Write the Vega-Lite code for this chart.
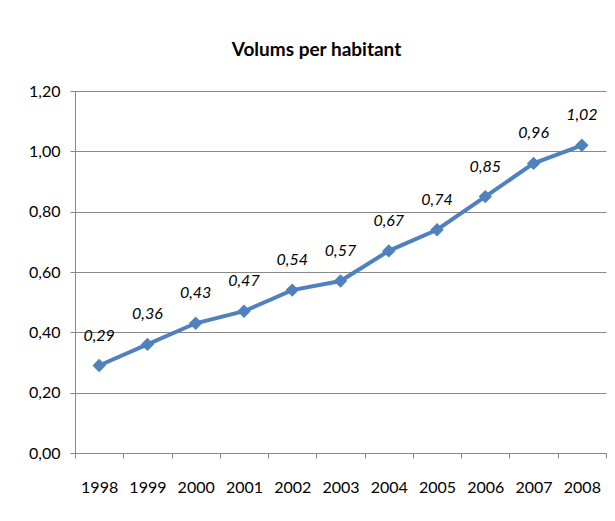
{
  "$schema": "https://vega.github.io/schema/vega-lite/v6.json",
  "autosize": {"type": "none"},
  "padding": {"left": 75, "top": 91, "right": 9, "bottom": 68},
  "width": 531,
  "height": 362,
  "background": "white",
  "title": {
    "text": "Volums per habitant",
    "font": "Lato",
    "fontSize": 19,
    "fontWeight": "bold",
    "color": "#000000",
    "anchor": "middle",
    "frame": "group",
    "baseline": "alphabetic",
    "offset": 8,
    "dx": -24
  },
  "config": {
    "locale": {
      "number": {"decimal": ",", "thousands": ".", "grouping": [3], "currency": ["", " €"]}
    },
    "view": {"stroke": null},
    "font": "Lato"
  },
  "data": {
    "values": [
      {"year": "1998", "value": 0.29},
      {"year": "1999", "value": 0.36},
      {"year": "2000", "value": 0.43},
      {"year": "2001", "value": 0.47},
      {"year": "2002", "value": 0.54},
      {"year": "2003", "value": 0.57},
      {"year": "2004", "value": 0.67},
      {"year": "2005", "value": 0.74},
      {"year": "2006", "value": 0.85},
      {"year": "2007", "value": 0.96},
      {"year": "2008", "value": 1.02}
    ]
  },
  "encoding": {
    "x": {
      "field": "year",
      "type": "ordinal",
      "scale": {"type": "band", "paddingInner": 0, "paddingOuter": 0},
      "axis": {
        "title": null,
        "labelAngle": 0,
        "tickBand": "extent",
        "domainColor": "#888888",
        "tickColor": "#888888",
        "tickSize": 5,
        "labelFont": "Lato",
        "labelFontSize": 16,
        "labelColor": "#000000",
        "labelPadding": 21,
        "grid": false
      }
    },
    "y": {
      "field": "value",
      "type": "quantitative",
      "scale": {"domain": [0, 1.2]},
      "axis": {
        "title": null,
        "values": [0, 0.2, 0.4, 0.6, 0.8, 1.0, 1.2],
        "format": ".2f",
        "domain": true,
        "domainColor": "#888888",
        "tickColor": "#888888",
        "tickSize": 5,
        "gridColor": "#888888",
        "gridWidth": 1,
        "labelFont": "Lato",
        "labelFontSize": 16,
        "labelColor": "#000000",
        "labelPadding": 10
      }
    }
  },
  "layer": [
    {
      "mark": {"type": "line", "color": "#4F81BD", "strokeWidth": 4}
    },
    {
      "mark": {"type": "point", "shape": "diamond", "filled": true, "color": "#4F81BD", "size": 180, "opacity": 1}
    },
    {
      "mark": {"type": "text", "dy": -30, "fontStyle": "italic", "font": "Lato", "fontSize": 16, "color": "#000000"},
      "encoding": {
        "text": {"field": "value", "type": "quantitative", "format": ".2f"}
      }
    }
  ]
}
